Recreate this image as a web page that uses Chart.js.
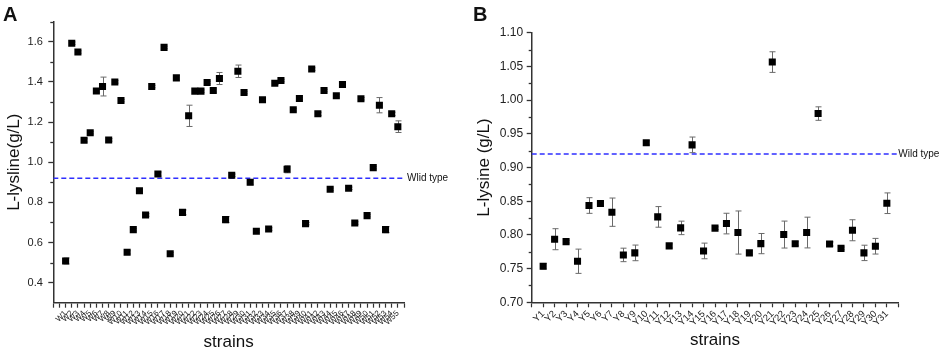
<!DOCTYPE html>
<html><head><meta charset="utf-8">
<script src="https://cdn.jsdelivr.net/npm/chart.js@4"></script>
<style>
html,body{margin:0;padding:0;background:#fff;}
body{width:941px;height:351px;position:relative;overflow:hidden;font-family:"Liberation Sans",Arial,sans-serif;}
.panel{position:absolute;top:0;height:351px;}
#wa{left:0;width:470px;}
#wb{left:470px;width:471px;}
.tag{position:absolute;top:4px;font:bold 20px/1 "Liberation Sans",Arial,sans-serif;color:#111;}
</style></head><body>
<div class="panel" id="wa"><canvas id="ca" width="470" height="351"></canvas></div>
<div class="panel" id="wb"><canvas id="cb" width="471" height="351"></canvas></div>
<div class="tag" style="left:3px;">A</div>
<div class="tag" style="left:473px;">B</div>
<script>
// ---------- Panel A data ----------
const strainsA = ['W1','W2','W3','W4','W5','W6','W7','W8','W9','W10','W11','W12','W13','W14','W15','W16','W17','W18','W19','W20','W21','W22','W23','W24','W25','W26','W27','W28','W29','W30','W31','W32','W33','W34','W35','W36','W37','W38','W39','W40','W41','W42','W43','W44','W45','W46','W47','W48','W49','W50','W51','W52','W53','W54','W55'];
const valuesA = [0.508,1.593,1.549,1.109,1.147,1.355,1.377,1.111,1.400,1.307,0.551,0.664,0.858,0.737,1.377,0.941,1.572,0.544,1.420,0.750,1.231,1.354,1.354,1.397,1.357,1.417,0.714,0.935,1.453,1.347,0.900,0.656,1.311,0.667,1.393,1.407,0.965,1.261,1.317,0.694,1.464,1.241,1.357,0.865,1.331,1.387,0.870,0.697,1.316,0.734,0.973,1.284,0.664,1.241,1.177];
const errorsA = [0.015,0.006,0.006,0.008,0.006,0.008,0.047,0.006,0.006,0.006,0.008,0.006,0.006,0.006,0.006,0.010,0.006,0.006,0.012,0.012,0.053,0.006,0.006,0.006,0.008,0.030,0.015,0.006,0.031,0.006,0.012,0.006,0.006,0.006,0.006,0.006,0.018,0.006,0.006,0.006,0.006,0.008,0.006,0.006,0.006,0.006,0.006,0.006,0.006,0.006,0.006,0.038,0.015,0.008,0.029];
const yMajorA = [0.4,0.6,0.8,1.0,1.2,1.4,1.6];
const yLabelsA = ['0.4','0.6','0.8','1.0','1.2','1.4','1.6'];
const yMinorA = [0.5,0.7,0.9,1.1,1.3,1.5,1.7];
const wildA = 0.92;

// ---------- Panel B data ----------
const strainsB = ['Y1','Y2','Y3','Y4','Y5','Y6','Y7','Y8','Y9','Y10','Y11','Y12','Y13','Y14','Y15','Y16','Y17','Y18','Y19','Y20','Y21','Y22','Y23','Y24','Y25','Y26','Y27','Y28','Y29','Y30','Y31'];
const valuesB = [0.7535,0.7936,0.790,0.7609,0.8436,0.8465,0.8337,0.7703,0.7733,0.9366,0.8267,0.7837,0.8104,0.9336,0.7762,0.810,0.8168,0.8035,0.7733,0.7871,1.0564,0.8005,0.787,0.8035,0.980,0.7866,0.780,0.8069,0.7733,0.7832,0.847];
const errorsB = [0.004,0.0156,0.002,0.018,0.0116,0.003,0.021,0.010,0.0116,0.003,0.0153,0.003,0.010,0.0116,0.0116,0.002,0.0153,0.032,0.003,0.015,0.0153,0.020,0.003,0.0228,0.010,0.003,0.002,0.0156,0.0114,0.0116,0.0153];
const yMajorB = [0.70,0.75,0.80,0.85,0.90,0.95,1.00,1.05,1.10];
const yLabelsB = ['0.70','0.75','0.80','0.85','0.90','0.95','1.00','1.05','1.10'];
const yMinorB = [0.725,0.775,0.825,0.875,0.925,0.975,1.025,1.075];
const wildB = 0.92;

const FAM = '"Liberation Sans", Arial, sans-serif';
Chart.defaults.font.family = FAM;

const deco = {
  id: 'deco',
  beforeDatasetsDraw(chart, args, o) {
    const ctx = chart.ctx, ys = chart.scales.y, meta = chart.getDatasetMeta(0);
    ctx.save();
    ctx.strokeStyle = '#6a6a6a'; ctx.lineWidth = 1;
    for (let i = 0; i < o.values.length; i++) {
      const pt = meta.data[i]; if (!pt) continue;
      const v = o.values[i], e = o.errors[i];
      const x = Math.round(pt.x) + 0.5;
      const y1 = ys.getPixelForValue(v + e), y2 = ys.getPixelForValue(v - e);
      ctx.beginPath();
      ctx.moveTo(x, y1); ctx.lineTo(x, y2);
      ctx.moveTo(x - 3, y1); ctx.lineTo(x + 3, y1);
      ctx.moveTo(x - 3, y2); ctx.lineTo(x + 3, y2);
      ctx.stroke();
    }
    ctx.restore();
  },
  afterDraw(chart, args, o) {
    const ctx = chart.ctx, ys = chart.scales.y, ca = chart.chartArea;
    ctx.save();
    ctx.strokeStyle = '#333'; ctx.lineWidth = 1.3;
    o.minor.forEach(v => {
      const y = Math.round(ys.getPixelForValue(v)) + 0.5;
      ctx.beginPath(); ctx.moveTo(ca.left, y); ctx.lineTo(ca.left - 3, y); ctx.stroke();
    });
    ctx.fillStyle = '#111';
    ctx.font = '10px ' + FAM;
    ctx.textBaseline = 'middle'; ctx.textAlign = 'left';
    ctx.fillText(o.wildLabel, ca.right + o.dx, ys.getPixelForValue(o.wild));
    ctx.restore();
  }
};

function makeChart(id, cfg) {
  const xTicks = [];
  for (let v = cfg.xmin; v <= cfg.xmax; v++) xTicks.push(v);
  const pts = cfg.values.map((v, i) => ({x: i + 1, y: v}));
  return new Chart(document.getElementById(id), {
    type: 'scatter',
    data: {
      datasets: [
        {data: pts, pointStyle: 'rect', pointRadius: 5, pointHoverRadius: 5, backgroundColor: '#000', borderWidth: 0},
        {type: 'line', data: [{x: cfg.xmin, y: cfg.wild}, {x: cfg.xmax, y: cfg.wild}], borderColor: '#2f2fff', borderWidth: 1.3, borderDash: [5, 3], pointRadius: 0, fill: false}
      ]
    },
    options: {
      responsive: false, animation: false, devicePixelRatio: 1,
      layout: {padding: cfg.pad},
      plugins: {legend: {display: false}, tooltip: {enabled: false},
        deco: {values: cfg.values, errors: cfg.errors, minor: cfg.minor, wild: cfg.wild, wildLabel: cfg.wildLabel, dx: cfg.dx}},
      scales: {
        x: {
          type: 'linear', min: cfg.xmin, max: cfg.xmax,
          afterBuildTicks: s => { s.ticks = xTicks.map(v => ({value: v})); },
          afterFit: s => { s.height = cfg.xh; },
          ticks: {autoSkip: false, minRotation: 45, maxRotation: 45, padding: 1, color: '#222',
            font: {size: cfg.xfont},
            callback: v => (v >= 1 && v <= cfg.labels.length) ? cfg.labels[v - 1] : ''},
          grid: {drawOnChartArea: false, drawTicks: true, tickLength: 5, tickColor: '#333', tickWidth: 1.2},
          border: {display: true, color: '#333', width: 1.5},
          title: {display: true, text: 'strains', color: '#111', font: {size: 17, lineHeight: 1}, padding: {top: 0, bottom: cfg.xtpad}}
        },
        y: {
          type: 'linear', min: cfg.ymin, max: cfg.ymax,
          afterBuildTicks: s => { s.ticks = cfg.major.map(v => ({value: v})); },
          afterFit: s => { s.width = cfg.yw; },
          ticks: {color: '#222', padding: cfg.ypad, font: {size: cfg.yfont},
            callback: v => cfg.majorLabels[cfg.major.indexOf(v)]},
          grid: {drawOnChartArea: false, drawTicks: true, tickLength: 5, tickColor: '#333', tickWidth: 1.3},
          border: {display: true, color: '#333', width: 1.5},
          title: {display: true, text: cfg.ytitle, color: '#111', font: {size: 17}, padding: {top: 4, bottom: 0}}
        }
      }
    },
    plugins: [deco]
  });
}

makeChart('ca', {
  labels: strainsA, values: valuesA, errors: errorsA, major: yMajorA, majorLabels: yLabelsA, minor: yMinorA,
  wild: wildA, wildLabel: 'Wlid type', dx: 3,
  xmin: -1, xmax: 56, ymin: 0.3, ymax: 1.7,
  pad: {left: 0, right: 66, top: 21.7, bottom: 0}, yw: 53.3, xh: 48.3,
  xfont: 8, yfont: 11, ypad: 5.5, xtpad: 0, ytitle: 'L-lysline(g/L)'
});
makeChart('cb', {
  labels: strainsB, values: valuesB, errors: errorsB, major: yMajorB, majorLabels: yLabelsB, minor: yMinorB,
  wild: wildB, wildLabel: 'Wild type', dx: 0,
  xmin: 0, xmax: 32, ymin: 0.70, ymax: 1.10,
  pad: {left: 0, right: 42.7, top: 32.7, bottom: 0}, yw: 61.7, xh: 48.7,
  xfont: 9.5, yfont: 12, ypad: 3.5, xtpad: 2, ytitle: 'L-lysine (g/L)'
});
</script>
</body></html>
